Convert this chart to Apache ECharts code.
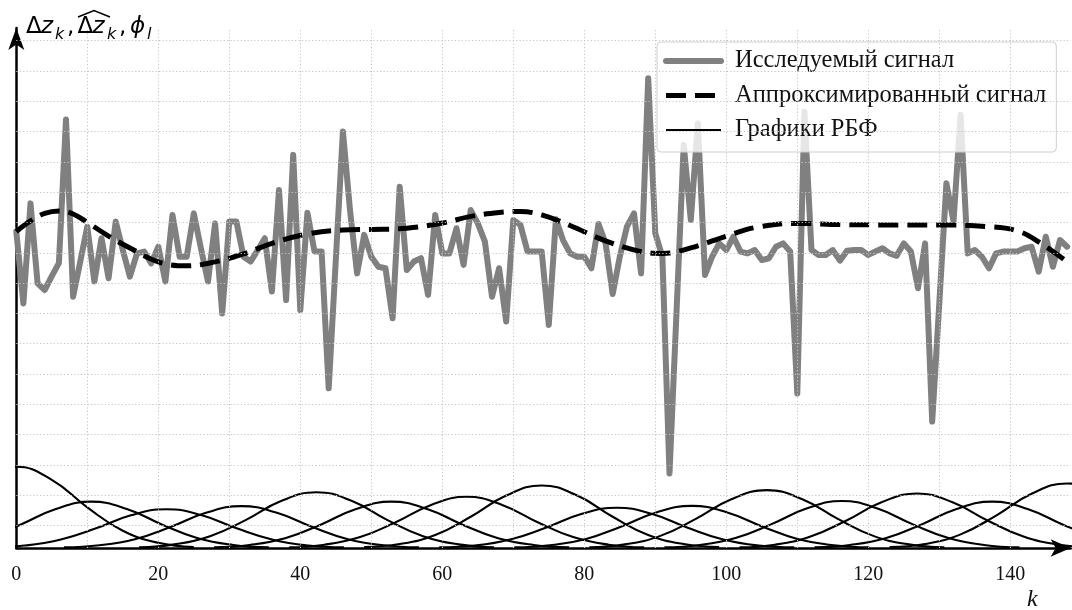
<!DOCTYPE html>
<html><head><meta charset="utf-8">
<script src="https://cdn.jsdelivr.net/npm/echarts@6/dist/echarts.min.js"></script>
<style>html,body{margin:0;padding:0;background:#fff}#chart{width:1072px;height:610px}</style>
</head><body><div id="chart"></div>
<script>
// ---- data ----
const signalValues = [
 10.44, 8.07,11.37, 8.73, 8.51, 8.97, 9.40,14.14, 8.29, 9.44,
 10.60, 8.79,10.22, 8.90,10.77, 9.83, 8.95, 9.72, 9.78, 9.39,
  9.94, 8.79,10.99, 9.61, 9.61,11.04, 9.89, 8.79,10.71, 7.74,
 10.77,10.77, 9.61, 9.45, 9.83,10.22, 8.46,11.81, 8.18,12.97,
  7.85,11.06, 9.78, 9.78, 5.27, 9.50,13.74,11.15, 9.06,10.33,
  9.61, 9.28, 9.23, 7.58,11.92, 9.17, 9.45, 9.56, 8.35,10.99,
  9.72, 9.72,10.55, 9.34,11.15,10.71,10.11, 8.29, 9.23, 7.47,
 10.82,10.66, 9.78, 9.78, 9.78, 7.36,10.85,10.16, 9.72, 9.61,
  9.61, 9.23,10.69,10.05, 8.38, 9.61,10.60,11.04, 9.06,15.50,
 10.38, 9.61, 2.46, 7.85,13.30,10.82,14.01, 9.01, 9.61,10.05,
  9.83,10.27, 9.78, 9.72, 9.83, 9.50, 9.56, 9.94,10.05, 9.78,
  5.10,14.39, 9.83, 9.67, 9.67, 9.83, 9.48, 9.81, 9.83, 9.83,
  9.67, 9.78, 9.89, 9.72, 9.64,10.05, 9.78, 8.57,10.05, 4.17,
  8.08,12.03,10.77,14.29, 9.72, 9.83, 9.61, 9.23, 9.72, 9.78,
  9.78, 9.78, 9.89, 9.94, 9.12,10.27, 9.28,10.16, 9.94
];
const approxK      = [0, 2, 4, 6, 8, 10, 13, 16, 20, 24, 28, 32, 36, 41, 46, 50, 55, 60, 64, 68, 71, 74, 78, 83, 88, 91, 95, 100, 104, 110, 116, 123, 130, 137, 141, 144, 148];
const approxValues = [10.44,10.79,11.04,11.12,11.02,10.74,10.29,9.90,9.44,9.31,9.44,9.70,10.05,10.36,10.49,10.51,10.55,10.72,10.94,11.07,11.10,10.99,10.64,10.13,9.78,9.72,9.90,10.29,10.57,10.71,10.67,10.66,10.66,10.60,10.46,10.10,9.44];
const rbfCenters = [0, 10.57, 21.14, 31.71, 42.29, 52.86, 63.43, 74, 84.57, 95.14, 105.71, 116.29, 126.86, 137.43, 148];
const rbfOffsets = [-25, -20, -15, -10, -5, 0, 5, 10, 15, 20, 25];
const rbfValues = [
 [0.03,0.17,0.57,1.34,2.25,2.68,2.25,1.34,0.57,0.17,0.03],
 [0.02,0.10,0.32,0.77,1.29,1.53,1.29,0.77,0.32,0.10,0.02],
 [0.02,0.08,0.27,0.64,1.08,1.28,1.08,0.64,0.27,0.08,0.02],
 [0.02,0.09,0.29,0.69,1.16,1.38,1.16,0.69,0.29,0.09,0.02],
 [0.02,0.12,0.39,0.92,1.55,1.84,1.55,0.92,0.39,0.12,0.02],
 [0.02,0.10,0.32,0.77,1.29,1.53,1.29,0.77,0.32,0.10,0.02],
 [0.02,0.11,0.36,0.85,1.42,1.69,1.42,0.85,0.36,0.11,0.02],
 [0.03,0.13,0.43,1.03,1.73,2.06,1.73,1.03,0.43,0.13,0.03],
 [0.02,0.08,0.28,0.67,1.12,1.33,1.12,0.67,0.28,0.08,0.02],
 [0.02,0.09,0.29,0.70,1.17,1.39,1.17,0.70,0.29,0.09,0.02],
 [0.02,0.12,0.40,0.96,1.61,1.91,1.61,0.96,0.40,0.12,0.02],
 [0.02,0.10,0.33,0.78,1.30,1.55,1.30,0.78,0.33,0.10,0.02],
 [0.02,0.11,0.38,0.90,1.51,1.80,1.51,0.90,0.38,0.11,0.02],
 [0.02,0.10,0.32,0.77,1.29,1.53,1.29,0.77,0.32,0.10,0.02],
 [0.03,0.13,0.45,1.07,1.79,2.13,1.79,1.07,0.45,0.13,0.03]
];
const xTickLabels = [0, 20, 40, 60, 80, 100, 120, 140];
const xGridTicks = [10, 20, 30, 40, 50, 60, 70, 80, 90, 100, 110, 120, 130, 140];
const yGridTicks = [0.74, 1.74, 2.74, 3.74, 4.74, 5.74, 6.74, 7.74, 8.74, 9.74, 10.74, 11.74, 12.74, 13.74, 14.74, 15.74, 16.74];
const nameSignal = 'Исследуемый сигнал';
const nameApprox = 'Аппроксимированный сигнал';
const nameRbf = 'Графики РБФ';

// ---- chart ----
const chart = echarts.init(document.getElementById('chart'), null, {renderer: 'canvas'});
const gridLine = {type: [1.2, 2.2], color: '#c4c4c4', width: 1};
const series = [];
series.push({
  type: 'line', z: 1, silent: true, data: [], symbol: 'none',
  markLine: {
    silent: true, symbol: ['none', 'none'], label: {show: false}, animation: false,
    lineStyle: gridLine,
    emphasis: {disabled: true},
    data: xGridTicks.map(v => ({xAxis: v})).concat(yGridTicks.map(v => ({yAxis: v})))
  }
});
rbfValues.forEach((row, i) => {
  series.push({
    name: nameRbf, type: 'line', z: 2, symbol: 'none', smooth: 0.45, silent: true,
    color: '#000',
    lineStyle: {color: '#000', width: 2.1},
    data: row.map((v, j) => [rbfCenters[i] + rbfOffsets[j], v])
  });
});
series.push({
  name: nameSignal, type: 'line', z: 3, symbol: 'none', silent: true,
  color: '#808080',
  lineStyle: {color: '#808080', width: 6, join: 'round', cap: 'round'},
  data: signalValues.map((v, k) => [k, v])
});
series.push({
  name: nameApprox, type: 'line', z: 4, symbol: 'none', smooth: 0.4, silent: true,
  color: '#000',
  lineStyle: {color: '#000', width: 5, type: [20, 9], cap: 'butt'},
  data: approxValues.map((v, i) => [approxK[i], v])
});

const sub = 'italic 16px "DejaVu Sans"';
const big = '23px "DejaVu Sans"';
const bigI = 'italic 23px "DejaVu Sans"';
function t(x, y, text, font) {
  return {type: 'text', x: x, y: y, silent: true, z: 10,
    style: {text: text, font: font, fill: '#000', align: 'left', verticalAlign: 'middle'}};
}
const hidden = {opacity: 0, color: 'rgba(0,0,0,0)', borderWidth: 0};

chart.setOption({
  animation: false,
  backgroundColor: '#fff',
  grid: {left: 16.3, right: 1.35, top: 28, bottom: 62, containLabel: false, outerBoundsMode: 'none'},
  xAxis: {
    type: 'value', min: 0, max: 148.5, interval: 20,
    axisLine: {show: true, lineStyle: {color: '#000', width: 2.5}, symbol: ['none', 'arrow'], symbolSize: [13, 20], symbolOffset: [0, 0]},
    axisTick: {show: false},
    splitLine: {show: false},
    axisLabel: {
      show: true, margin: 17, color: '#111', fontFamily: 'Liberation Serif', fontSize: 20,
      formatter: v => (xTickLabels.indexOf(v) >= 0 ? String(v) : '')
    }
  },
  yAxis: {
    type: 'value', min: 0, max: 17.156,
    axisLine: {show: true, lineStyle: {color: '#000', width: 2.5}, symbol: ['none', 'arrow'], symbolSize: [12, 22], symbolOffset: [0, 0]},
    axisTick: {show: false}, axisLabel: {show: false}, splitLine: {show: false}
  },
  legend: {
    orient: 'vertical', left: 657, top: 42,
    padding: [6, 10, 9, 6], itemGap: 8.5, itemWidth: 55, itemHeight: 14,
    backgroundColor: 'rgba(255,255,255,0.8)', borderColor: '#cfcfcf', borderWidth: 1, borderRadius: 4,
    textStyle: {fontFamily: 'Liberation Serif', fontSize: 24.5, color: '#111', lineHeight: 26, padding: [0, 0, 0, 9]},
    selectedMode: false,
    itemStyle: hidden,
    data: [
      {name: nameSignal, itemStyle: hidden, lineStyle: {width: 6, color: '#808080'}},
      {name: nameApprox, itemStyle: hidden, lineStyle: {width: 5, color: '#000', type: [20, 9]}},
      {name: nameRbf, itemStyle: hidden, lineStyle: {width: 2.1, color: '#000'}}
    ]
  },
  graphic: [
    t(26, 27, 'Δ', big), t(41, 27, 'z', bigI), t(55, 35, 'k', sub), t(67, 27, ',', big),
    t(77.5, 27, 'Δ', big), t(92.5, 27, 'z', bigI), t(107, 35, 'k', sub), t(119, 27, ',', big),
    t(130, 27, 'ϕ', bigI), t(147, 35, 'l', sub),
    {type: 'polyline', silent: true, z: 10, shape: {points: [[78, 17], [94, 10.5], [110, 17]]}, style: {stroke: '#000', lineWidth: 1.6, fill: null}},
    {type: 'text', x: 1027, y: 600, silent: true, z: 10,
     style: {text: 'k', font: 'italic 24px "Liberation Serif"', fill: '#111', align: 'left', verticalAlign: 'middle'}}
  ],
  series: series
});
</script>
</body></html>
